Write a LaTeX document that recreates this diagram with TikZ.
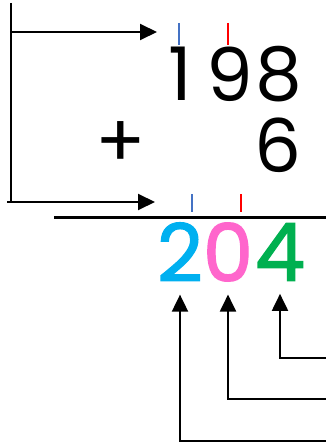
\documentclass[tikz,border=0pt]{standalone}
\usepackage{fontspec}
\setmainfont{Poppins}
\newfontfamily\answerfont[FakeBold=1.6]{Poppins}
\usetikzlibrary{arrows.meta,positioning}
\definecolor{sumblue}{HTML}{00B0F0}
\definecolor{sumpink}{HTML}{FF66CC}
\definecolor{sumgreen}{HTML}{00B050}
\definecolor{tickblue}{HTML}{4472C4}

\begin{document}
\begin{tikzpicture}[x=1pt, y=-1pt, >={Triangle[length=17pt,width=16pt]},
  link/.style={->, line width=2pt},
  carry/.style={line width=2.6pt},
  digit/.style={inner sep=0pt, font=\fontsize{74}{74}\selectfont},
  result/.style={inner sep=0pt, font=\fontsize{80}{80}\answerfont}]
\useasboundingbox (0,0) rectangle (326,444);

% --- the sum ---
\node[digit] (hund) at (180,74) {1};
\node[digit] (tens) at (230,74) {9};
\node[digit] (ones) at (279,74) {8};
\node[digit] (plus) at (121,145) {+};
\node[digit] (six) at (278,145) {6};
\draw[line width=3pt] (54,217) -- (326,217);

% --- answer ---
\node[result, sumblue] (ansh) at (180,252) {2};
\node[result, sumpink] (anst) at (228,252) {0};
\node[result, sumgreen] (anso) at (280,252) {4};

% carry marks
\draw[carry, tickblue] (179,23) -- (179,45);
\draw[carry, red] (228,23) -- (228,45);
\draw[carry, tickblue] (192,194) -- (192,212);
\draw[carry, red] (241,194) -- (241,212);

% --- left arrows ---
\coordinate (topend) at (11,3);
\coordinate (toptip) at (157,32);
\coordinate (lowtail) at (7,202);
\coordinate (lowtip) at (155,202);
\draw[line width=2pt] (topend) -- (11,202);
\draw[link] (11,32) -- (toptip);
\draw[link] (lowtail) -- (lowtip);

% --- arrows to the answer ---
\coordinate (inone) at (326,358);
\coordinate (inten) at (326,399);
\coordinate (inhun) at (326,441);
\draw[link, shorten >=13pt] (inone) -| (anso.south);
\draw[link, shorten >=13pt] (inten) -| (anst.south);
\draw[link, shorten >=13pt] (inhun) -| (ansh.south);

\end{tikzpicture}
\end{document}
